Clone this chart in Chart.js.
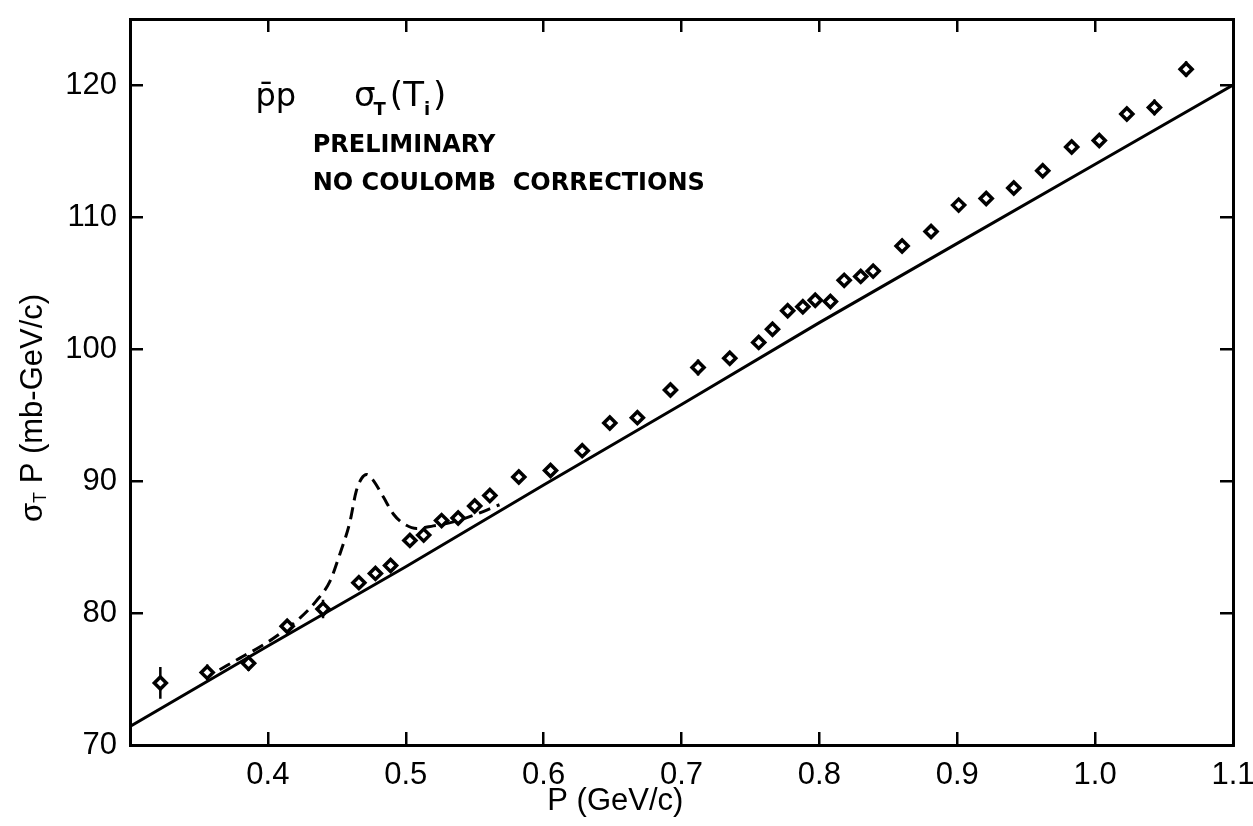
<!DOCTYPE html>
<html>
<head>
<meta charset="utf-8">
<script src="https://cdn.jsdelivr.net/npm/chart.js@4.4.1/dist/chart.umd.min.js"></script>
<style>
    body { margin: 0; background: #fff; }
    canvas { display: block; }
</style>
</head>
<body>
<canvas id="chart" width="1253" height="826"></canvas>
<script>
// measured points, P in GeV/c and sigma_T * P in mb-GeV/c
const momentum = [0.322, 0.356, 0.386, 0.414, 0.440, 0.466, 0.478, 0.489, 0.503, 0.513,
    0.526, 0.538, 0.550, 0.561, 0.582, 0.605, 0.628, 0.648, 0.668, 0.692,
    0.712, 0.735, 0.756, 0.766, 0.777, 0.788, 0.797, 0.808, 0.818, 0.830,
    0.839, 0.860, 0.881, 0.901, 0.921, 0.941, 0.962, 0.983, 1.003, 1.023,
    1.043, 1.066];
const sigmaP = [74.7, 75.5, 76.2, 79.0, 80.3, 82.3, 83.0, 83.6, 85.5, 85.9,
    87.0, 87.2, 88.1, 88.9, 90.3, 90.8, 92.3, 94.4, 94.8, 96.9,
    98.6, 99.3, 100.5, 101.5, 102.9, 103.2, 103.7, 103.6, 105.2, 105.5,
    105.9, 107.8, 108.9, 110.9, 111.4, 112.2, 113.5, 115.3, 115.8, 117.8,
    118.3, 121.2];
const sigmaErr = [1.2, 0.6, 0.6, 0.4, 0.7, 0.4, 0.4, 0.3, 0.3, 0.3,
    0.4, 0.3, 0.3, 0.3, 0.3, 0.3, 0.4, 0.4, 0.3, 0.3,
    0.6, 0.3, 0.3, 0.4, 0.3, 0.3, 0.3, 0.3, 0.4, 0.3,
    0.3, 0.3, 0.3, 0.4, 0.4, 0.3, 0.4, 0.5, 0.4, 0.3,
    0.6, 0.6];

// solid curve
const fitP = [0.3, 0.4, 0.5, 0.6, 0.7, 0.8, 0.9, 1.0, 1.1];
const fitSigma = [71.4, 77.5, 83.5, 89.7, 95.8, 102.0, 108.0, 114.0, 120.0];

// dashed curve with the bump
const dashP = [0.365, 0.380, 0.397, 0.411, 0.423, 0.435, 0.445, 0.452, 0.4595, 0.464,
    0.468, 0.4716, 0.476, 0.4837, 0.491, 0.498, 0.508, 0.520, 0.5345, 0.549, 0.568];
const dashSigma = [75.7, 76.6, 77.6, 78.6, 79.6, 80.9, 82.4, 84.4, 86.9, 89.2,
    90.2, 90.5, 90.1, 88.8, 87.5, 86.8, 86.4, 86.6, 86.9, 87.4, 88.2];

const xTicks = [0.4, 0.5, 0.6, 0.7, 0.8, 0.9, 1.0, 1.1];
const yTicks = [70, 80, 90, 100, 110, 120];

const FONT = '"Liberation Sans", Arial, sans-serif';
const NOTE_FONT = '"DejaVu Sans", sans-serif';

function pairs(xs, ys) {
    return xs.map((v, i) => ({ x: v, y: ys[i] }));
}

// vertical error bars as short segments separated by gaps
let errorBars = [];
for (let i = 0; i < momentum.length; i++) {
    errorBars.push({ x: momentum[i], y: sigmaP[i] - sigmaErr[i] });
    errorBars.push({ x: momentum[i], y: sigmaP[i] + sigmaErr[i] });
    errorBars.push({ x: momentum[i], y: null });
}

function axisStyle(ticks, showLabels, pad, size) {
    return {
        border: { display: true, color: '#000', width: 3 },
        grid: { drawOnChartArea: false, drawTicks: true, tickLength: -13, color: '#000', lineWidth: 2.5 },
        afterBuildTicks: axis => { axis.ticks = ticks.map(v => ({ value: v })); },
        afterFit: s => {
            // pin the plot area, no room kept for half labels
            if (s.isHorizontal()) s.height = size; else s.width = size;
            s.paddingTop = 0;
            s.paddingBottom = 0;
            s.paddingLeft = 0;
            s.paddingRight = 0;
        },
        ticks: {
            display: showLabels,
            color: '#000',
            padding: pad,
            font: { family: FONT, size: 31 }
        }
    };
}

const notes = {
    id: 'notes',
    afterDraw(chart) {
        const ctx = chart.ctx;
        const x = chart.scales.x;
        const y = chart.scales.y;
        ctx.save();
        ctx.fillStyle = '#000';
        ctx.textBaseline = 'alphabetic';

        // p-bar p   sigma_T(T_i)
        let px = x.getPixelForValue(0.391);
        let py = y.getPixelForValue(118.4);
        ctx.font = '32px ' + NOTE_FONT;
        ctx.fillText('p\u0304p', px, py);

        let sx = x.getPixelForValue(0.4625);
        ctx.font = '34px ' + NOTE_FONT;
        ctx.fillText('\u03C3', sx, py);
        sx += ctx.measureText('\u03C3').width - 2;
        ctx.font = 'bold 18px ' + NOTE_FONT;
        ctx.fillText('T', sx, py + 9);
        sx += ctx.measureText('T').width + 4;
        ctx.font = '34px ' + NOTE_FONT;
        ctx.fillText('(T', sx, py);
        sx += ctx.measureText('(T').width;
        ctx.font = 'bold 18px ' + NOTE_FONT;
        ctx.fillText('i', sx, py + 9);
        sx += ctx.measureText('i').width + 3;
        ctx.font = '34px ' + NOTE_FONT;
        ctx.fillText(')', sx, py);

        ctx.font = 'bold 24px ' + NOTE_FONT;
        ctx.textBaseline = 'middle';
        ctx.fillText('PRELIMINARY', x.getPixelForValue(0.4325), y.getPixelForValue(115.4));
        ctx.fillText('NO COULOMB  CORRECTIONS', x.getPixelForValue(0.4325), y.getPixelForValue(112.5));

        // x axis title, sits left of the plot centre in the original
        ctx.font = '31px ' + FONT;
        ctx.textAlign = 'center';
        ctx.fillText('P (GeV/c)', x.getPixelForValue(0.652), 801);

        // y axis title with subscript
        ctx.textAlign = 'left';
        ctx.translate(33, 408);
        ctx.rotate(-Math.PI / 2);
        const big = '31px ' + FONT;
        const small = '18px ' + FONT;
        ctx.font = big;
        const w1 = ctx.measureText('\u03C3').width;
        const w3 = ctx.measureText(' P (mb-GeV/c)').width;
        ctx.font = small;
        const w2 = ctx.measureText('T').width;
        let tx = -(w1 + w2 + w3) / 2;
        ctx.font = big;
        ctx.fillText('\u03C3', tx, 0);
        tx += w1;
        ctx.font = small;
        ctx.fillText('T', tx, 8);
        tx += w2;
        ctx.font = big;
        ctx.fillText(' P (mb-GeV/c)', tx, 0);
        ctx.restore();
    }
};

const xAxis = axisStyle(xTicks, true, 25, 81);
xAxis.type = 'linear';
xAxis.position = 'bottom';
xAxis.min = 0.3;
xAxis.max = 1.1;
xAxis.ticks.callback = v => v.toFixed(1);

const yAxis = axisStyle(yTicks, true, 26, 130);
yAxis.type = 'linear';
yAxis.position = 'left';
yAxis.min = 70;
yAxis.max = 125;

const xTop = axisStyle(xTicks, false, 0, 19);
xTop.type = 'linear';
xTop.position = 'top';
xTop.min = 0.3;
xTop.max = 1.1;

const yRight = axisStyle(yTicks, false, 0, 20);
yRight.type = 'linear';
yRight.position = 'right';
yRight.min = 70;
yRight.max = 125;

new Chart(document.getElementById('chart'), {
    type: 'scatter',
    data: {
        datasets: [
            {
                label: 'data',
                data: pairs(momentum, sigmaP),
                pointStyle: 'rectRot',
                pointRadius: 6,
                borderWidth: 3.5,
                borderColor: '#000',
                backgroundColor: '#fff',
                order: 0
            },
            {
                label: 'errors',
                data: errorBars,
                showLine: true,
                spanGaps: false,
                pointRadius: 0,
                borderWidth: 2.5,
                borderColor: '#000',
                order: 1
            },
            {
                label: 'fit',
                data: pairs(fitP, fitSigma),
                showLine: true,
                pointRadius: 0,
                borderWidth: 3,
                borderColor: '#000',
                order: 2
            },
            {
                label: 'resonance',
                data: pairs(dashP, dashSigma),
                showLine: true,
                pointRadius: 0,
                borderWidth: 3,
                borderColor: '#000',
                borderDash: [12, 7],
                cubicInterpolationMode: 'monotone',
                order: 3
            }
        ]
    },
    options: {
        responsive: false,
        animation: false,
        layout: { padding: 0 },
        plugins: {
            legend: { display: false },
            tooltip: { enabled: false }
        },
        scales: {
            x: xAxis,
            y: yAxis,
            x2: xTop,
            y2: yRight
        }
    },
    plugins: [notes]
});
</script>
</body>
</html>
